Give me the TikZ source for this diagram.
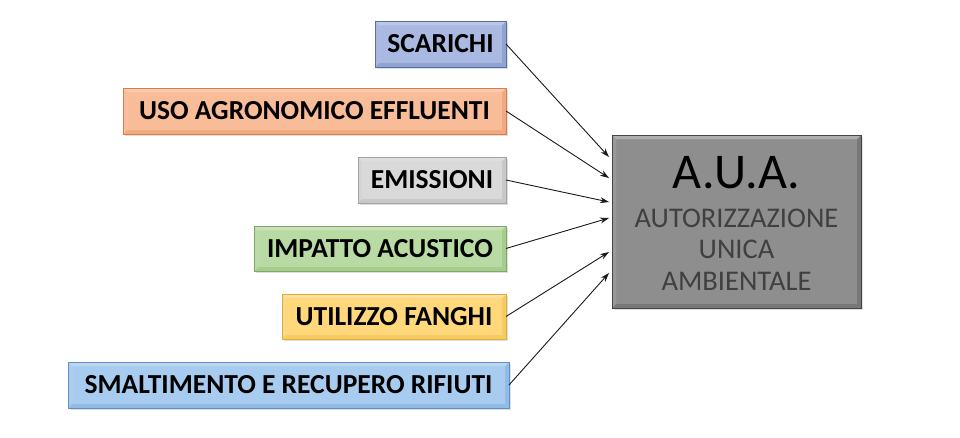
\documentclass[tikz,border=0pt]{standalone}
\usepackage{fontspec}
\setmainfont{Carlito}
\usetikzlibrary{arrows.meta,shadows}
\definecolor{cBlue}{HTML}{A9B9E2}\definecolor{cBlueD}{HTML}{5570A8}
\definecolor{cOrange}{HTML}{F9BC98}\definecolor{cOrangeD}{HTML}{DD7C45}
\definecolor{cGray}{HTML}{D9D9D9}\definecolor{cGrayD}{HTML}{A2A2A2}
\definecolor{cGreen}{HTML}{B8DBA3}\definecolor{cGreenD}{HTML}{7EAA62}
\definecolor{cYellow}{HTML}{FFD87C}\definecolor{cYellowD}{HTML}{E0AE2C}
\definecolor{cSky}{HTML}{A8CCF0}\definecolor{cSkyD}{HTML}{5E90C8}
\definecolor{cAua}{HTML}{8E8E8E}\definecolor{cAuaD}{HTML}{454545}
\begin{document}
\begin{tikzpicture}[x=1pt,y=-1pt,
  bevelbox/.style 2 args={rectangle, draw=#2, line width=1pt, fill=#1!70!#2,
    inner sep=0pt, outer sep=0pt,
    drop shadow={opacity=0.25, shadow xshift=1.5pt, shadow yshift=-1.5pt},
    path picture={
      \fill[#1] ([shift={(4pt,-4pt)}]path picture bounding box.north west)
        rectangle ([shift={(-4pt,4pt)}]path picture bounding box.south east);
      \fill[white,opacity=0.4] ([shift={(1pt,-1pt)}]path picture bounding box.north west)
        -- ([shift={(-1pt,-1pt)}]path picture bounding box.north east)
        -- ([shift={(-4pt,-4pt)}]path picture bounding box.north east)
        -- ([shift={(4pt,-4pt)}]path picture bounding box.north west) -- cycle;
      \fill[white,opacity=0.25] ([shift={(1pt,-1pt)}]path picture bounding box.north west)
        -- ([shift={(4pt,-4pt)}]path picture bounding box.north west)
        -- ([shift={(4pt,4pt)}]path picture bounding box.south west)
        -- ([shift={(1pt,1pt)}]path picture bounding box.south west) -- cycle;
    }},
  src/.style={font=\fontsize{27.5}{31}\selectfont\bfseries, minimum height=46pt},
  conn/.style={-{Stealth[length=9pt,width=6pt]}, line width=0.9pt, black!90}
]
\useasboundingbox (0,0) rectangle (960,437);
% source boxes
\node[bevelbox={cBlue}{cBlueD}, src, minimum width=131pt] (scarichi) at (440.5,44) {SCARICHI};
\node[bevelbox={cOrange}{cOrangeD}, src, minimum width=383pt] (uso) at (314.5,111) {USO AGRONOMICO EFFLUENTI};
\node[bevelbox={cGray}{cGrayD}, src, minimum width=148pt] (emissioni) at (432,180) {EMISSIONI};
\node[bevelbox={cGreen}{cGreenD}, src, minimum width=252pt, minimum height=45pt] (impatto) at (380,248.5) {IMPATTO ACUSTICO};
\node[bevelbox={cYellow}{cYellowD}, src, minimum width=224pt, minimum height=45pt] (fanghi) at (394,316.5) {UTILIZZO FANGHI};
\node[bevelbox={cSky}{cSkyD}, src, minimum width=441pt] (rifiuti) at (288.5,385) {SMALTIMENTO E RECUPERO RIFIUTI};
% AUA box
\node[bevelbox={cAua}{cAuaD}, minimum width=249pt, minimum height=173pt] (auabox) at (736.5,221.5) {};
\node[font=\fontsize{50}{56}\selectfont, anchor=base] (aua) at (736.5,188) {A.U.A.};
\node[font=\fontsize{28.5}{31.5}\selectfont, text=black!75, align=center, anchor=base] (auat) at (736.5,290)
  {AUTORIZZAZIONE\\UNICA\\AMBIENTALE};
% connector targets on the left side of the A.U.A. box
\coordinate (t1) at (609,157);
\coordinate (t2) at (609,178);
\coordinate (t3) at (609,202);
\coordinate (t4) at (609,218);
\coordinate (t5) at (609,252);
\coordinate (t6) at (609,273);
\draw[conn] (scarichi.east) -- (t1);
\draw[conn] (uso.east) -- (t2);
\draw[conn] (emissioni.east) -- (t3);
\draw[conn] (impatto.east) -- (t4);
\draw[conn] (fanghi.east) -- (t5);
\draw[conn] (rifiuti.east) -- (t6);
\end{tikzpicture}
\end{document}
